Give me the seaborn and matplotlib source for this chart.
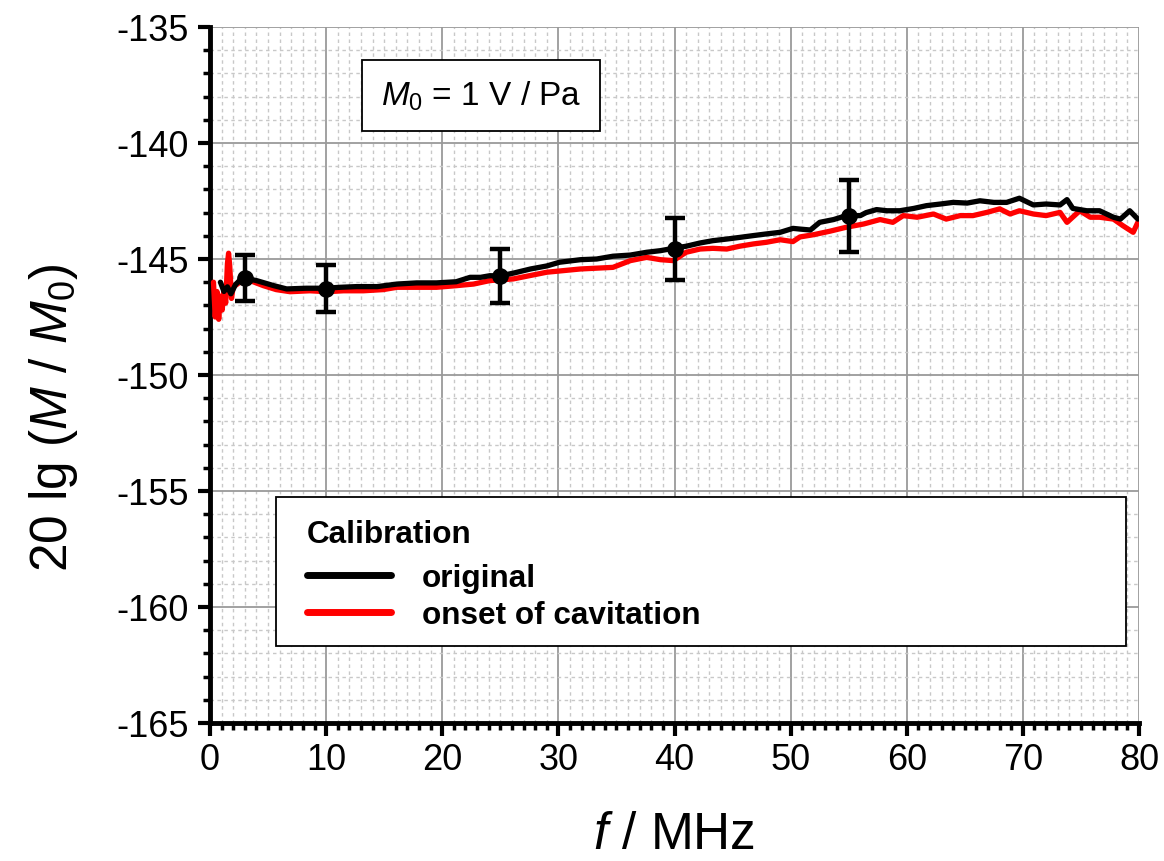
import numpy as np
import pandas as pd
import matplotlib
matplotlib.use("Agg")
import matplotlib.pyplot as plt
import seaborn as sns
from matplotlib.lines import Line2D
from matplotlib.patches import Rectangle
from matplotlib.ticker import MultipleLocator

# ---------------- data ----------------
series_names = ["original", "onset of cavitation"]
series_colors = ["#000000", "#ff0000"]
legend_title = "Calibration"

original_curve = [
    (0.9, -146.0), (1.2, -146.4), (1.5, -146.2), (1.8, -146.5), (2.2, -146.1),
    (2.6, -145.9), (3.0, -145.83), (4.0, -145.93), (5.5, -146.15), (6.6, -146.29),
    (8.3, -146.26), (9.9, -146.26), (11.2, -146.22), (12.6, -146.19), (14.4, -146.19),
    (16.1, -146.08), (17.8, -146.03), (19.5, -146.03), (21.2, -145.98), (22.4, -145.79),
    (23.3, -145.79), (24.1, -145.72), (25.0, -145.73), (26.2, -145.6), (27.6, -145.43),
    (29.0, -145.3), (30.1, -145.14), (31.9, -145.03), (33.3, -145.0), (34.7, -144.88),
    (36.2, -144.83), (37.6, -144.71), (38.8, -144.64), (39.9, -144.54), (41.0, -144.45),
    (42.2, -144.31), (43.3, -144.21), (44.5, -144.14), (45.6, -144.07), (46.8, -143.99),
    (47.9, -143.92), (49.1, -143.85), (50.2, -143.68), (50.8, -143.71), (51.7, -143.75),
    (52.5, -143.42), (53.7, -143.3), (54.8, -143.13), (56.0, -143.13), (56.5, -143.0),
    (57.4, -142.87), (58.3, -142.92), (59.4, -142.92), (60.6, -142.82), (61.7, -142.7),
    (62.9, -142.63), (64.0, -142.56), (65.2, -142.59), (66.3, -142.49), (67.5, -142.56),
    (68.6, -142.56), (69.7, -142.38), (70.9, -142.67), (72.0, -142.63), (73.2, -142.67),
    (73.8, -142.44), (74.3, -142.82), (75.5, -142.92), (76.6, -142.92), (77.8, -143.2),
    (78.4, -143.28), (79.2, -142.92), (79.9, -143.28),
]

cavitation_curve = [
    (0.3, -146.0), (0.45, -147.5), (0.6, -146.4), (0.75, -147.6), (0.9, -146.6),
    (1.05, -147.2), (1.2, -146.3), (1.35, -146.9), (1.5, -145.2), (1.6, -144.75),
    (1.7, -145.3), (1.85, -146.7), (2.0, -146.2), (2.3, -146.1), (2.7, -145.95),
    (3.45, -145.93), (4.6, -146.15), (5.7, -146.32), (6.9, -146.41), (8.6, -146.37),
    (10.05, -146.41), (11.5, -146.37), (13.2, -146.37), (14.9, -146.32), (16.1, -146.22),
    (17.8, -146.22), (19.5, -146.22), (21.2, -146.15), (22.7, -146.08), (24.1, -145.93),
    (26.1, -145.86), (29.0, -145.57), (31.9, -145.43), (34.7, -145.36), (36.2, -145.07),
    (37.6, -144.93), (38.8, -145.03), (39.9, -145.07), (41.0, -144.71), (42.2, -144.57),
    (43.3, -144.54), (44.5, -144.57), (45.6, -144.45), (46.8, -144.35), (47.9, -144.28),
    (49.1, -144.17), (50.2, -144.25), (50.8, -144.05), (52.0, -143.95), (53.4, -143.8),
    (54.8, -143.63), (56.3, -143.49), (57.7, -143.3), (58.8, -143.42), (59.7, -143.13),
    (60.9, -143.2), (62.3, -143.06), (63.4, -143.28), (64.6, -143.13), (65.7, -143.13),
    (66.9, -142.99), (68.0, -142.84), (68.9, -143.06), (69.7, -142.92), (70.9, -143.06),
    (72.0, -143.13), (73.2, -142.99), (73.8, -143.42), (74.9, -142.92), (75.8, -143.2),
    (76.6, -143.2), (77.8, -143.28), (78.6, -143.56), (79.5, -143.85), (79.9, -143.42),
]

err_freq = [3, 10, 25, 40, 55]
err_level = [-145.83, -146.28, -145.73, -144.57, -143.15]
err_unc = [1.0, 1.0, 1.15, 1.35, 1.55]

x_ticks = [0, 10, 20, 30, 40, 50, 60, 70, 80]
y_ticks = [-165, -160, -155, -150, -145, -140, -135]

# ---------------- style ----------------
sns.set_theme(style="white")
plt.rcParams['font.family'] = ['Liberation Sans', 'DejaVu Sans']
plt.rcParams['mathtext.fontset'] = 'custom'
plt.rcParams['mathtext.rm'] = 'Liberation Sans'
plt.rcParams['mathtext.it'] = 'Liberation Sans:italic'
plt.rcParams['mathtext.bf'] = 'Liberation Sans:bold'
plt.rcParams['axes.unicode_minus'] = False
for key in ['text.color', 'axes.labelcolor', 'xtick.color', 'ytick.color',
            'xtick.labelcolor', 'ytick.labelcolor']:
    plt.rcParams[key] = 'black'

fig = plt.figure(figsize=(11.64, 8.62), dpi=100)
ax = fig.add_axes([210 / 1164, 1 - 724 / 862, 929 / 1164, 696 / 862])

frames = []
for name, pts in [(series_names[1], cavitation_curve), (series_names[0], original_curve)]:
    frames.append(pd.DataFrame({"f": [p[0] for p in pts],
                                "level": [p[1] for p in pts],
                                "series": name}))
df = pd.concat(frames, ignore_index=True)

palette = dict(zip(series_names, series_colors))
sns.lineplot(data=df, x="f", y="level", hue="series",
             hue_order=[series_names[1], series_names[0]],
             palette=palette, linewidth=3.8, estimator=None, sort=False,
             legend=False, ax=ax, zorder=3)

ax.errorbar(err_freq, err_level, yerr=err_unc, fmt="o", color="black",
            ms=11, elinewidth=3.2, capsize=7, capthick=3.2, zorder=5)

ax.set_xlim(0, 80)
ax.set_ylim(-165, -135)
ax.set_xticks(x_ticks)
ax.set_yticks(y_ticks)
ax.xaxis.set_minor_locator(MultipleLocator(1))
ax.yaxis.set_minor_locator(MultipleLocator(1))

ax.set_axisbelow(True)
ax.grid(which="major", color="#9a9a9a", linewidth=1.3, linestyle="-")
ax.grid(which="minor", color="#c8c8c8", linewidth=1.0, linestyle=(0, (2.5, 2.5)))

for s in ["top", "right"]:
    ax.spines[s].set_visible(False)
for s in ["left", "bottom"]:
    ax.spines[s].set_linewidth(3.5)
    ax.spines[s].set_color("black")

ax.tick_params(which="both", direction="out", left=True, bottom=True,
               top=False, right=False, color="black", labelcolor="black")
ax.tick_params(which="major", length=9, width=3, labelsize=26, pad=5)
ax.tick_params(axis="y", which="major", pad=6)
ax.tick_params(which="minor", length=5, width=2.5)

ax.set_xlabel(r"$f$ / MHz", fontsize=37, color="black")
ax.set_ylabel(r"20 lg ($M$ / $M_0$)", fontsize=37, color="black")
ax.xaxis.set_label_coords(0.5, -0.125)
ax.yaxis.set_label_coords(-0.14, 0.44)

# inset annotation
ax.text(0.2917, 0.9016, r"$M_0$ = 1 V / Pa", transform=ax.transAxes,
        ha="center", va="center", fontsize=24, zorder=6, color="black",
        bbox=dict(boxstyle="square,pad=0.55", fc="white", ec="black", lw=1.3))

# legend with a separately drawn frame and title
ax.add_patch(Rectangle((0.071, 0.111), 0.915, 0.214, transform=ax.transAxes,
                       facecolor="white", edgecolor="black", linewidth=1.3, zorder=6))
ax.text(0.1044, 0.260, legend_title, transform=ax.transAxes, ha="left",
        va="baseline", fontsize=22.7, fontweight="bold", color="black", zorder=8)
handles = [Line2D([], [], color=c, lw=5) for c in series_colors]
leg = ax.legend(handles, series_names,
                loc="upper left", bbox_to_anchor=(0.1044, 0.2299),
                frameon=False, borderpad=0, borderaxespad=0,
                prop={"weight": "bold", "size": 22.7},
                handlelength=2.65, handletextpad=1.0,
                labelspacing=0.21)
for t in leg.get_texts():
    t.set_color("black")
leg.set_zorder(7)

fig.savefig("out.png", dpi=100)
